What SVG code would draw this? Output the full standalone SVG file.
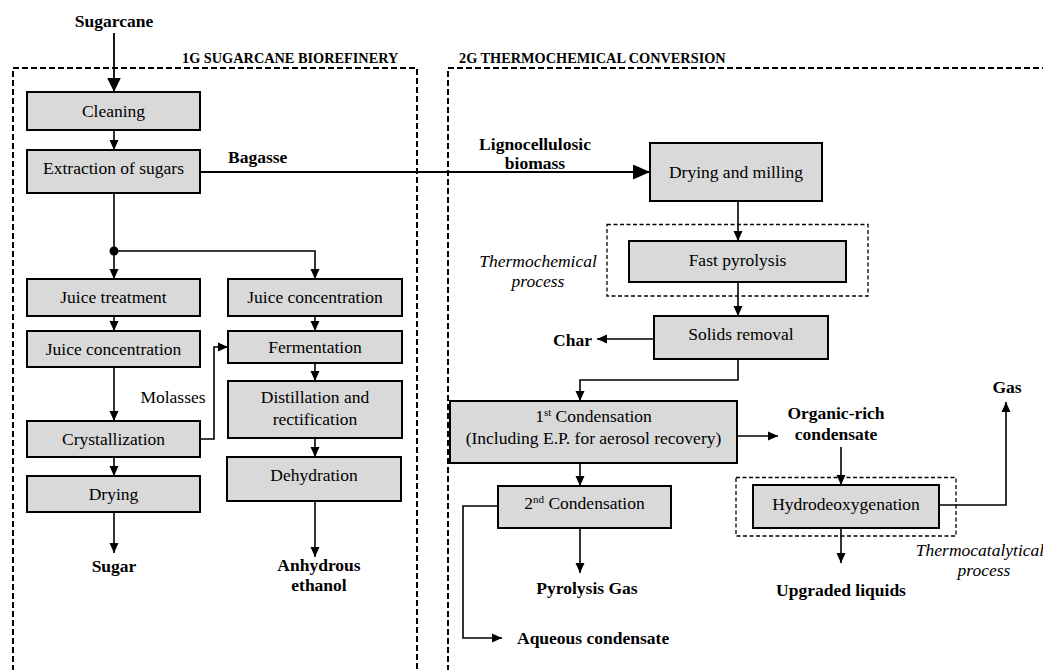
<svg xmlns="http://www.w3.org/2000/svg" width="1043" height="670" viewBox="0 0 1043 670">
<style>
  .box { fill: #d9d9d9; stroke: #000; stroke-width: 2; }
  .t { font-family: "Liberation Serif", "Times New Roman", serif; font-size: 17.5px; fill: #000; text-anchor: middle; }
  .b { font-family: "Liberation Serif", "Times New Roman", serif; font-size: 17.5px; font-weight: bold; fill: #000; }
  .i { font-family: "Liberation Serif", "Times New Roman", serif; font-size: 17.5px; font-style: italic; fill: #000; text-anchor: middle; }
  .hdr { font-family: "Liberation Serif", "Times New Roman", serif; font-size: 14.3px; font-weight: bold; fill: #000; }
  .outer { fill: none; stroke: #000; stroke-width: 2; stroke-dasharray: 6 3; }
  .inner { fill: none; stroke: #000; stroke-width: 1.3; stroke-dasharray: 4 2.5; }
  .c { fill: none; stroke: #000; stroke-width: 1.6; }
  .ca { fill: none; stroke: #000; stroke-width: 1.6; marker-end: url(#ah); }
  .cl { fill: none; stroke: #000; stroke-width: 1.8; marker-end: url(#ahL); }
  .cm { fill: none; stroke: #000; stroke-width: 1.8; marker-end: url(#ahM); }
</style>
<defs>
  <marker id="ah" markerUnits="userSpaceOnUse" markerWidth="11" markerHeight="10" refX="10" refY="5" orient="auto">
    <path d="M0,0.5 L10,5 L0,9.5 Z" fill="#000"/>
  </marker>
  <marker id="ahL" markerUnits="userSpaceOnUse" markerWidth="18" markerHeight="16" refX="17" refY="7.5" orient="auto">
    <path d="M0,0 L17,7.5 L0,15 Z" fill="#000"/>
  </marker>
  <marker id="ahM" markerUnits="userSpaceOnUse" markerWidth="15" markerHeight="14" refX="14" refY="6.75" orient="auto">
    <path d="M0,0 L14,6.75 L0,13.5 Z" fill="#000"/>
  </marker>
</defs>
<rect width="1043" height="670" fill="#fff"/>

<g id="frames">
  <path class="outer" d="M13,680 V68 H417 V680"/>
  <path class="outer" d="M448,680 V68 H1050"/>
  <text class="hdr" x="182" y="63">1G SUGARCANE BIOREFINERY</text>
  <text class="hdr" x="459" y="63">2G THERMOCHEMICAL CONVERSION</text>
  <rect class="inner" x="607" y="224.5" width="261" height="71.5"/>
  <text class="i" x="538" y="267">Thermochemical</text>
  <text class="i" x="538" y="287">process</text>
  <rect class="inner" x="736" y="477.5" width="220" height="58.5"/>
  <text class="i" x="980" y="556">Thermocatalytical</text>
  <text class="i" x="984" y="576">process</text>
</g>

<g id="connectors">
  <path class="cm" d="M114,33 V92"/>
  <path class="ca" d="M114,130 V150"/>
  <path class="cl" d="M200,172 H650"/>
  <path class="c" d="M114,193 V251"/>
  <circle cx="114" cy="251" r="4.5" fill="#000"/>
  <path class="ca" d="M114,251 V279"/>
  <path class="ca" d="M114,251 H315 V279"/>
  <path class="ca" d="M114,316 V331"/>
  <path class="ca" d="M315,316 V331"/>
  <path class="ca" d="M114,367 V421"/>
  <path class="ca" d="M200,439 H214 V347 H228"/>
  <path class="ca" d="M114,457 V476"/>
  <path class="ca" d="M114,512 V553"/>
  <path class="ca" d="M315,363 V381"/>
  <path class="ca" d="M315,438 V457"/>
  <path class="ca" d="M315,501 V557"/>
  <path class="ca" d="M738,201 V241"/>
  <path class="ca" d="M738,282 V316"/>
  <path class="ca" d="M654,339 H597"/>
  <path class="ca" d="M738,359 V380 H580 V401"/>
  <path class="ca" d="M737,436 H778"/>
  <path class="ca" d="M580,463 V486"/>
  <path class="ca" d="M580,528 V573"/>
  <path class="ca" d="M498,506 H463 V638 H502"/>
  <path class="ca" d="M841,447 V485"/>
  <path class="ca" d="M939,505 H1006 V402"/>
  <path class="ca" d="M841,528 V563"/>
</g>

<g id="labels">
  <text class="b" x="114" y="27" text-anchor="middle">Sugarcane</text>
  <text class="b" x="228" y="163">Bagasse</text>
  <text class="b" x="535" y="150" text-anchor="middle">Lignocellulosic</text>
  <text class="b" x="535" y="169" text-anchor="middle">biomass</text>
  <text class="t" x="173" y="403">Molasses</text>
  <text class="b" x="114" y="572" text-anchor="middle">Sugar</text>
  <text class="b" x="319" y="571" text-anchor="middle">Anhydrous</text>
  <text class="b" x="319" y="591" text-anchor="middle">ethanol</text>
  <text class="b" x="592" y="346" text-anchor="end" font-size="19.5">Char</text>
  <text class="b" x="836" y="419" text-anchor="middle">Organic-rich</text>
  <text class="b" x="836" y="440" text-anchor="middle">condensate</text>
  <text class="b" x="1007" y="393" text-anchor="middle">Gas</text>
  <text class="b" x="841" y="596" text-anchor="middle">Upgraded liquids</text>
  <text class="b" x="587" y="594" text-anchor="middle">Pyrolysis Gas</text>
  <text class="b" x="517" y="644">Aqueous condensate</text>
</g>

<g id="n-cleaning"><rect class="box" x="27" y="92" width="173" height="38"/><text class="t" x="113.5" y="117">Cleaning</text></g>
<g id="n-extraction"><rect class="box" x="27" y="150" width="173" height="43"/><text class="t" x="113.5" y="174">Extraction of sugars</text></g>
<g id="n-juice-treatment"><rect class="box" x="27" y="279" width="173" height="37"/><text class="t" x="113.5" y="303">Juice treatment</text></g>
<g id="n-juice-conc-1"><rect class="box" x="27" y="331" width="173" height="36"/><text class="t" x="113.5" y="355">Juice concentration</text></g>
<g id="n-crystallization"><rect class="box" x="27" y="421" width="173" height="36"/><text class="t" x="113.5" y="445">Crystallization</text></g>
<g id="n-drying"><rect class="box" x="27" y="476" width="173" height="36"/><text class="t" x="113.5" y="500">Drying</text></g>
<g id="n-juice-conc-2"><rect class="box" x="228" y="279" width="174" height="37"/><text class="t" x="315" y="303">Juice concentration</text></g>
<g id="n-fermentation"><rect class="box" x="228" y="331" width="174" height="32"/><text class="t" x="315" y="353">Fermentation</text></g>
<g id="n-distillation"><rect class="box" x="228" y="381" width="174" height="57"/><text class="t" x="315" y="403">Distillation and</text><text class="t" x="315" y="425">rectification</text></g>
<g id="n-dehydration"><rect class="box" x="227" y="457" width="174" height="44"/><text class="t" x="314" y="481">Dehydration</text></g>
<g id="n-drying-milling"><rect class="box" x="650" y="143" width="172" height="58"/><text class="t" x="736" y="178">Drying and milling</text></g>
<g id="n-fast-pyrolysis"><rect class="box" x="629" y="241" width="217" height="41"/><text class="t" x="737.5" y="266">Fast pyrolysis</text></g>
<g id="n-solids"><rect class="box" x="654" y="316" width="174" height="43"/><text class="t" x="741" y="340">Solids removal</text></g>
<g id="n-cond1"><rect class="box" x="450" y="401" width="287" height="62"/><text class="t" x="593.5" y="422">1<tspan font-size="11" dy="-6">st</tspan><tspan dy="6"> Condensation</tspan></text><text class="t" x="593.5" y="444">(Including E.P. for aerosol recovery)</text></g>
<g id="n-cond2"><rect class="box" x="498" y="486" width="173" height="42"/><text class="t" x="584.5" y="509">2<tspan font-size="11" dy="-6">nd</tspan><tspan dy="6"> Condensation</tspan></text></g>
<g id="n-hdo"><rect class="box" x="753" y="485" width="186" height="43"/><text class="t" x="846" y="510">Hydrodeoxygenation</text></g>
</svg>
